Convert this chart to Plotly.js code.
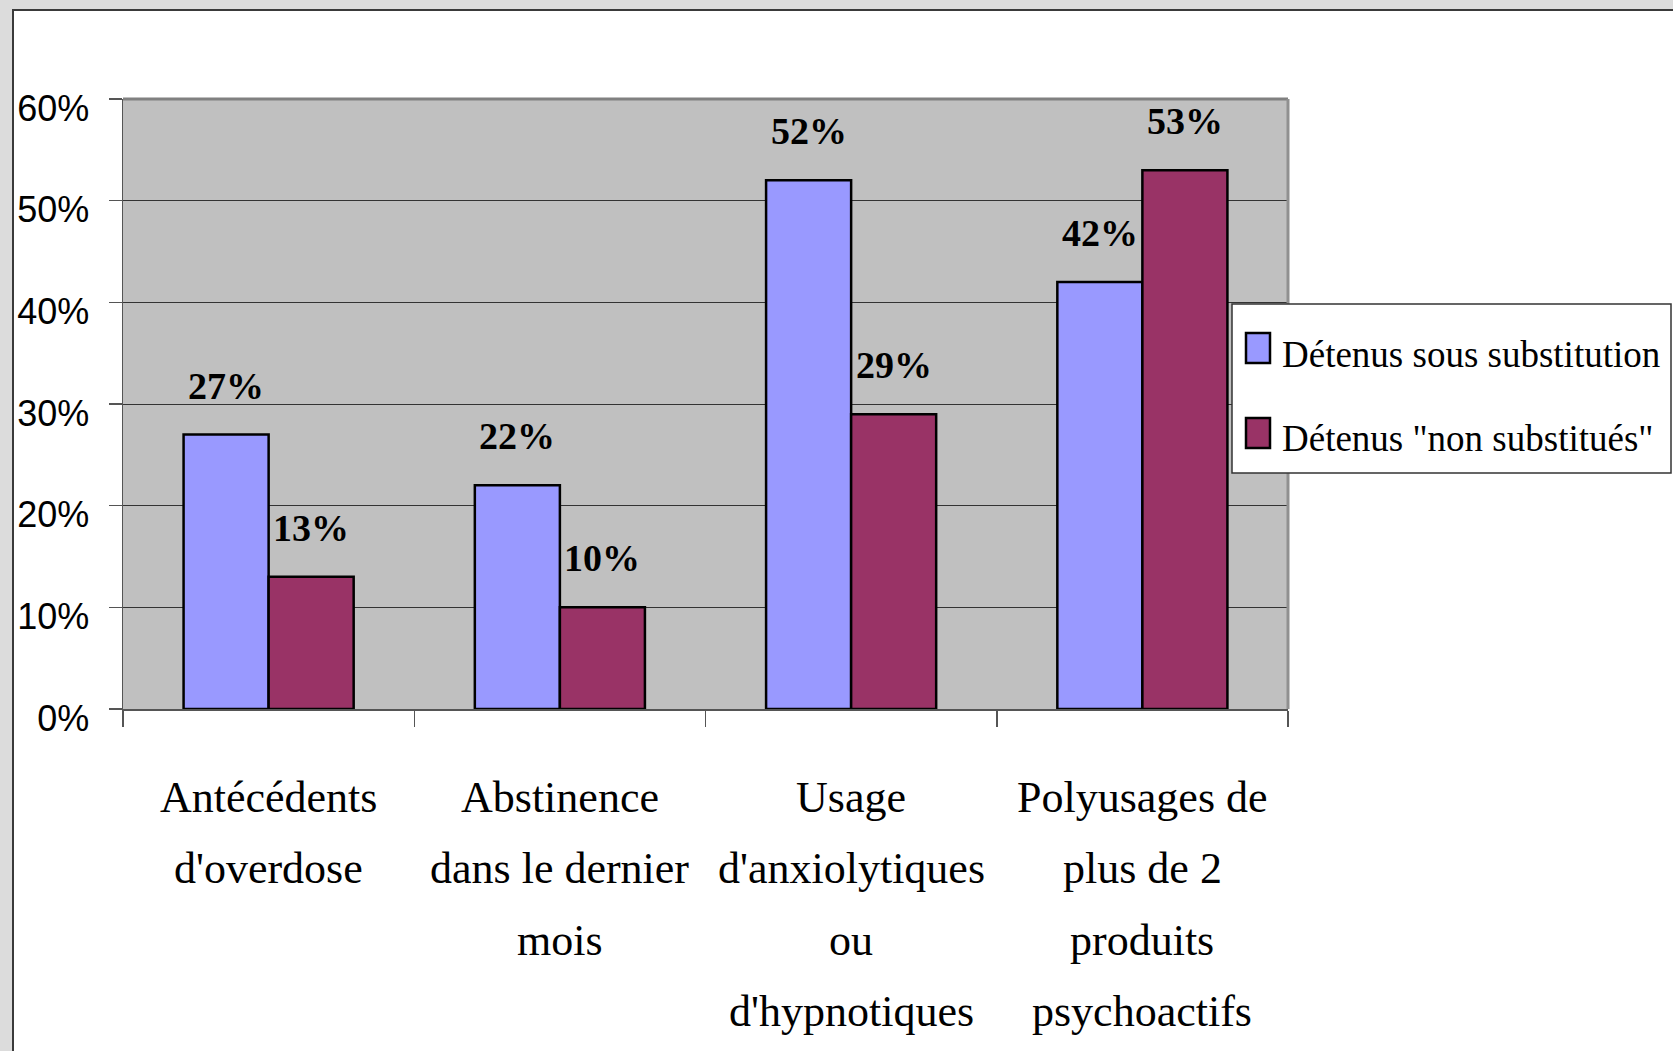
<!DOCTYPE html>
<html>
<head>
<meta charset="utf-8">
<script src="https://cdn.plot.ly/plotly-3.0.1.min.js"></script>
<style>
html,body{margin:0;padding:0;background:#dcdcdc;width:1673px;height:1051px;overflow:hidden;}
#frame{position:absolute;left:12px;top:9px;width:1659px;height:1042px;background:#fff;border-left:2px solid #3a3a3a;border-top:2px solid #3a3a3a;}
#chart{width:1659px;height:1042px;}
</style>
</head>
<body>
<div id="frame"><div id="chart"></div></div>
<script>
// ---- data ----
const categories = ["Antécédents d'overdose", "Abstinence dans le dernier mois", "Usage d'anxiolytiques ou d'hypnotiques", "Polyusages de plus de 2 produits psychoactifs"];
const categoryLines = [
  ["Antécédents", "d'overdose"],
  ["Abstinence", "dans le dernier", "mois"],
  ["Usage", "d'anxiolytiques", "ou", "d'hypnotiques"],
  ["Polyusages de", "plus de 2", "produits", "psychoactifs"]
];
const seriesNames = ["Détenus sous substitution", "Détenus \"non substitués\""];
const seriesColors = ["#9999ff", "#993366"];
const substitution = [0.27, 0.22, 0.52, 0.42];
const nonSubstitues = [0.13, 0.10, 0.29, 0.53];
const yTickVals = [0, 0.1, 0.2, 0.3, 0.4, 0.5, 0.6];
const yTickText = ["0%", "10%", "20%", "30%", "40%", "50%", "60%"];

// ---- layout constants ----
const W = 1659, H = 1042;
const M = {l: 109, r: 385, t: 88, b: 344};
const plotW = W - M.l - M.r;
const plotH = H - M.t - M.b;
const bargap = 0.416;
const barW = plotW / categories.length * (1 - bargap) / 2;
const serif = "Liberation Serif, Times New Roman, serif";
// pixel (within chart div) -> paper coordinates
const px = v => (v - M.l) / plotW;
const py = v => (H - M.b - v) / plotH;
const OX = 14, OY = 11; // chart div origin in page

const traces = [
  {type: "bar", name: seriesNames[0], x: categories, y: substitution,
   marker: {color: seriesColors[0], line: {color: "#000", width: 2.5}}, hoverinfo: "y"},
  {type: "bar", name: seriesNames[1], x: categories, y: nonSubstitues,
   marker: {color: seriesColors[1], line: {color: "#000", width: 2.5}}, hoverinfo: "y"}
];

const annotations = [];
[substitution, nonSubstitues].forEach((vals, s) => {
  vals.forEach((v, i) => {
    annotations.push({
      x: categories[i], y: v, xref: "x", yref: "y",
      xshift: (s === 0 ? -1 : 1) * barW / 2, yshift: 26,
      yanchor: "bottom", xanchor: "center", showarrow: false,
      text: "<b>" + Math.round(v * 100) + "%</b>",
      font: {family: serif, size: 38, color: "#000"}
    });
  });
});
categoryLines.forEach((lines, i) => {
  lines.forEach((ln, k) => {
    annotations.push({
      x: categories[i], y: 0, xref: "x", yref: "paper",
      yanchor: "middle", xanchor: "center", yshift: -(88 + 71.5 * k),
      showarrow: false, text: ln,
      font: {family: serif, size: 44, color: "#000"}
    });
  });
});

// ---- legend (box, swatches, labels) ----
const shapes = [
  {type: "line", xref: "paper", yref: "paper", x0: 0, x1: 1, y0: 1, y1: 1, line: {color: "#808080", width: 3}},
  {type: "line", xref: "paper", yref: "paper", x0: 1, x1: 1, y0: 0, y1: 1, line: {color: "#909090", width: 3}},
  {type: "rect", xref: "paper", yref: "paper",
   x0: px(1232 - OX), x1: px(1671 - OX), y0: py(473 - OY), y1: py(304 - OY),
   fillcolor: "#fff", line: {color: "#333", width: 1.5}, layer: "above"}
];
const legendRowsY = [348, 433];
seriesNames.forEach((nm, s) => {
  const cy = legendRowsY[s] - OY;
  shapes.push({type: "rect", xref: "paper", yref: "paper",
    x0: px(1246 - OX), x1: px(1270 - OX), y0: py(cy + 15), y1: py(cy - 15),
    fillcolor: seriesColors[s], line: {color: "#000", width: 2.5}, layer: "above"});
  annotations.push({xref: "paper", yref: "paper", x: px(1280 - OX), y: py(cy + 6),
    xanchor: "left", yanchor: "middle", showarrow: false, text: nm,
    font: {family: serif, size: 37, color: "#000"}});
});

const layout = {
  width: W, height: H,
  margin: M,
  paper_bgcolor: "#fff",
  plot_bgcolor: "#c0c0c0",
  barmode: "group",
  bargap: bargap,
  bargroupgap: 0,
  showlegend: false,
  xaxis: {
    type: "category", showticklabels: false,
    ticks: "outside", tickson: "boundaries", ticklen: 16, tickcolor: "#555", tickwidth: 1.5,
    showline: true, linecolor: "#555", linewidth: 2,
    showgrid: false, zeroline: false, fixedrange: true
  },
  yaxis: {
    range: [0, 0.6], tickvals: yTickVals, ticktext: yTickText,
    ticks: "outside", ticklen: 13, tickcolor: "#555", tickwidth: 1.5,
    ticklabelstandoff: 12, ticklabelshift: 9,
    tickfont: {family: "Liberation Sans, Arial, sans-serif", size: 36, color: "#000"},
    showline: true, linecolor: "#555", linewidth: 1.5,
    showgrid: true, gridcolor: "#333", gridwidth: 1,
    zeroline: false, fixedrange: true
  },
  shapes: shapes,
  annotations: annotations
};

Plotly.newPlot("chart", traces, layout, {displayModeBar: false, staticPlot: true});
</script>
</body>
</html>
